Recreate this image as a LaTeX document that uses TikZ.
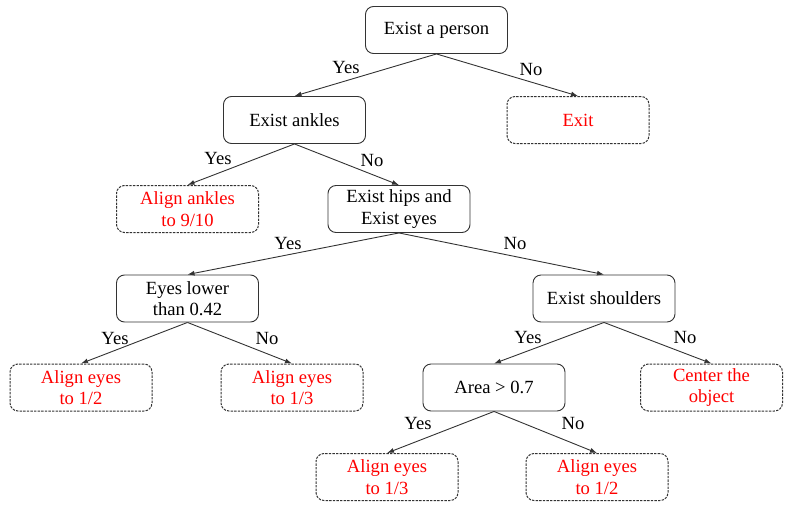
\documentclass[tikz,border=0pt]{standalone}
\usepackage{fontspec}
\setmainfont{Liberation Serif}
\usetikzlibrary{arrows.meta}
\definecolor{edge}{HTML}{333333}
\definecolor{leafred}{HTML}{FF0000}
\tikzset{
  base/.style={rectangle, rounded corners=8pt, minimum width=142pt, minimum height=47pt,
    align=center, font=\rmfamily\fontsize{18.6}{21.5}\selectfont, inner sep=2pt},
  decision/.style={base, draw=edge, line width=0.9pt, text=black},
  leaf/.style={base, draw=edge, line width=1pt, dash pattern=on 2.4pt off 1.2pt, text=leafred},
  conn/.style={draw=edge, line width=0.9pt, -{Latex[length=7pt,width=5pt]}},
  lbl/.style={font=\rmfamily\fontsize{18.6}{21.5}\selectfont, inner sep=0pt, text=black}
}
\begin{document}
\begin{tikzpicture}[x=1pt,y=-1pt]
\useasboundingbox (0,0) rectangle (787,506);
\node[decision] (person) at (436.5,30) {Exist a person};
\node[decision] (ankles) at (294.5,120) {Exist ankles};
\node[leaf] (exit) at (578,120) {Exit};
\node[leaf] (alank) at (187.5,209) {Align ankles\\to 9/10};
\node[decision] (hips) at (399,209) {Exist hips and\\Exist eyes};
\node[decision] (eyes) at (187.5,298.5) {Eyes lower\\than 0.42};
\node[decision] (should) at (604,298.5) {Exist shoulders};
\node[leaf] (ea) at (81,387.5) {Align eyes\\to 1/2};
\node[leaf] (eb) at (292,387.5) {Align eyes\\to 1/3};
\node[decision] (area) at (494,387.5) {Area > 0.7};
\node[leaf] (center) at (711.5,387.5) {Center the\\object};
\node[leaf] (ec) at (387,477) {Align eyes\\to 1/3};
\node[leaf] (ed) at (597,477) {Align eyes\\to 1/2};

\draw[conn] (person.south) -- (ankles.north);
\draw[conn] (person.south) -- (exit.north);
\draw[conn] (ankles.south) -- (alank.north);
\draw[conn] (ankles.south) -- (hips.north);
\draw[conn] (hips.south) -- (eyes.north);
\draw[conn] (hips.south) -- (should.north);
\draw[conn] (eyes.south) -- (ea.north);
\draw[conn] (eyes.south) -- (eb.north);
\draw[conn] (should.south) -- (area.north);
\draw[conn] (should.south) -- (center.north);
\draw[conn] (area.south) -- (ec.north);
\draw[conn] (area.south) -- (ed.north);

\node[lbl] (l1) at (346,68) {Yes};
\node[lbl] (l2) at (531,70) {No};
\node[lbl] (l3) at (218,158) {Yes};
\node[lbl] (l4) at (372,160) {No};
\node[lbl] (l5) at (288,243) {Yes};
\node[lbl] (l6) at (515,243) {No};
\node[lbl] (l7) at (115,338) {Yes};
\node[lbl] (l8) at (267,338) {No};
\node[lbl] (l9) at (528,337) {Yes};
\node[lbl] (l10) at (685,337) {No};
\node[lbl] (l11) at (418,423) {Yes};
\node[lbl] (l12) at (573,423) {No};
\end{tikzpicture}
\end{document}
